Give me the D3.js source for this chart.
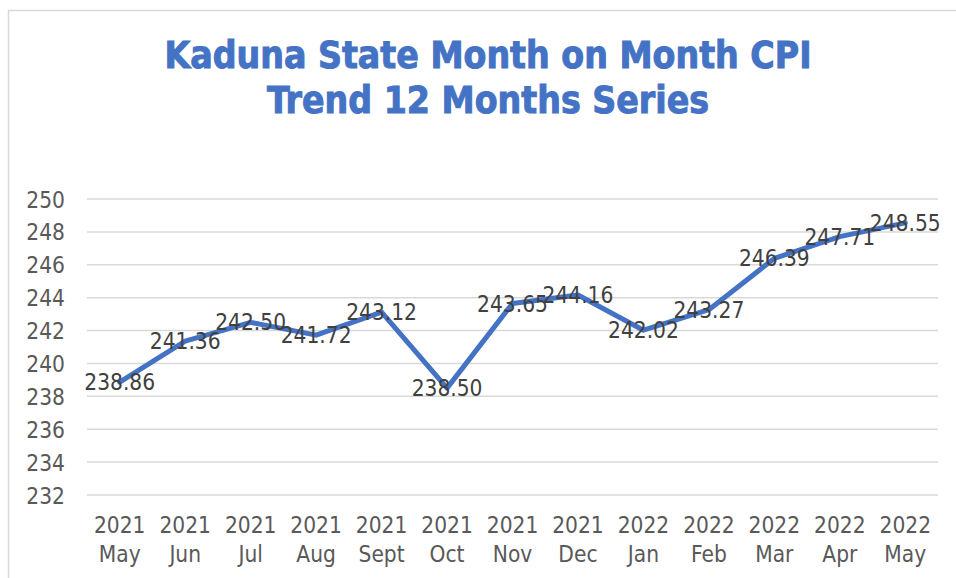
<!DOCTYPE html>
<html lang="en">
<head>
<meta charset="UTF-8">
<title>Kaduna State CPI</title>
<script src="https://d3js.org/d3.v7.min.js"></script>
<style>
body { margin: 0; background: #fff; }
text { font-family: "DejaVu Sans Condensed", "DejaVu Sans", sans-serif; font-stretch: condensed; }
.tick text { fill: #595959; font-size: 22.5px; }
.grid line { stroke: #d9d9d9; stroke-width: 1.5px; }
</style>
</head>
<body>
<script>
// chart values
var years  = ["2021","2021","2021","2021","2021","2021","2021","2021","2022","2022","2022","2022","2022"];
var months = ["May","Jun","Jul","Aug","Sept","Oct","Nov","Dec","Jan","Feb","Mar","Apr","May"];
var cpi    = [238.86, 241.36, 242.50, 241.72, 243.12, 238.50, 243.65, 244.16, 242.02, 243.27, 246.39, 247.71, 248.55];
var yTicks = [232, 234, 236, 238, 240, 242, 244, 246, 248, 250];
var titleLines = ["Kaduna State Month on Month CPI", "Trend 12 Months Series"];

var W = 956, H = 578;
var plot = {left: 87, right: 938, top: 199, bottom: 495};

var svg = d3.select("body").append("svg")
    .attr("width", W)
    .attr("height", H);

// outer chart border (only top/left visible in the crop)
svg.append("rect")
    .attr("x", 8.5).attr("y", 10.5)
    .attr("width", W + 20).attr("height", H + 20)
    .attr("fill", "#fff")
    .attr("stroke", "#d9d9d9")
    .attr("stroke-width", 1.5);

var idx = d3.range(cpi.length);

var x = d3.scaleBand()
    .domain(idx)
    .range([plot.left, plot.right]);

var y = d3.scaleLinear()
    .domain([232, 250])
    .range([plot.bottom, plot.top]);

// gridlines
svg.append("g")
    .attr("class", "grid")
    .selectAll("line")
    .data(yTicks)
    .enter().append("line")
    .attr("x1", plot.left).attr("x2", plot.right)
    .attr("y1", function(d) { return y(d); })
    .attr("y2", function(d) { return y(d); });

// y axis
var yAxis = svg.append("g")
    .attr("transform", "translate(" + plot.left + ",0)")
    .call(d3.axisLeft(y).tickValues(yTicks).tickSize(0).tickPadding(22));
yAxis.select(".domain").remove();
yAxis.selectAll(".tick text").attr("dy", "0.36em");

// x axis, two-line labels
var xAxis = svg.append("g")
    .attr("transform", "translate(0," + plot.bottom + ")")
    .call(d3.axisBottom(x).tickSize(0).tickFormat(""));
xAxis.select(".domain").remove();
xAxis.selectAll(".tick text").remove();
xAxis.selectAll(".tick").each(function(d) {
    var t = d3.select(this).append("text")
        .attr("text-anchor", "middle")
        .attr("fill", "#595959")
        .style("font-size", "22.5px");
    t.append("tspan").attr("x", 0).attr("y", 38).text(years[d]);
    t.append("tspan").attr("x", 0).attr("y", 67).text(months[d]);
});

// line (straight segments, round joins)
var line = d3.line()
    .x(function(d, i) { return x(i) + x.bandwidth() / 2; })
    .y(function(d) { return y(d); });

svg.append("path")
    .datum(cpi)
    .attr("fill", "none")
    .attr("stroke", "#4472C4")
    .attr("stroke-width", 5)
    .attr("stroke-linecap", "round")
    .attr("stroke-linejoin", "round")
    .attr("d", line);

// data labels
svg.append("g")
    .selectAll("text")
    .data(cpi)
    .enter().append("text")
    .attr("x", function(d, i) { return x(i) + x.bandwidth() / 2; })
    .attr("y", function(d) { return y(d); })
    .attr("dy", "0.36em")
    .attr("text-anchor", "middle")
    .attr("fill", "#404040")
    .style("font-size", "22.5px")
    .text(function(d) { return d.toFixed(2); });

// title (thin stroke to get closer to the heavier original face)
svg.append("g")
    .selectAll("text")
    .data(titleLines)
    .enter().append("text")
    .attr("x", 488)
    .attr("y", function(d, i) { return 68 + i * 45; })
    .attr("text-anchor", "middle")
    .attr("fill", "#4472C4")
    .attr("stroke", "#4472C4")
    .attr("stroke-width", 0.9)
    .style("font-weight", "bold")
    .style("font-size", "37px")
    .text(function(d) { return d; });
</script>
</body>
</html>
